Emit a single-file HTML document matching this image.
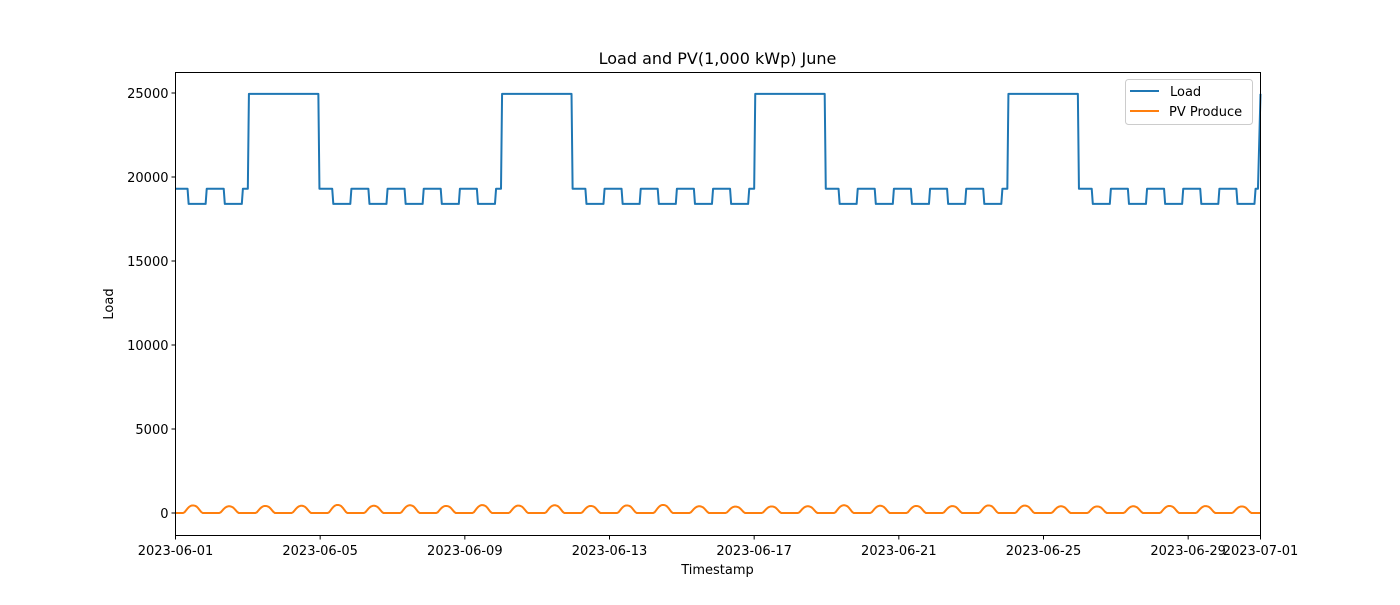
<!DOCTYPE html>
<html><head><meta charset="utf-8"><style>
body{margin:0;background:#fff;font-family:"Liberation Sans","DejaVu Sans",sans-serif}
svg text{font-family:"DejaVu Sans","Liberation Sans",sans-serif;font-size:13px;fill:#000}
</style></head><body>
<svg id="chart" width="1400" height="600" xmlns="http://www.w3.org/2000/svg">
<rect width="1400" height="600" fill="#fff"/>
<text x="717.5" y="64" text-anchor="middle" font-size="16" style="font-size:16px">Load and PV(1,000 kWp) June</text>
<g id="grid"></g>
<g id="series"></g>
<rect x="175.5" y="72.5" width="1085" height="463" fill="none" stroke="#000" stroke-width="1"/>
<g id="ticks"></g>
<text x="717.5" y="574" text-anchor="middle">Timestamp</text>
<text transform="translate(113,304) rotate(-90)" text-anchor="middle">Load</text>
<g>
<rect x="1125.5" y="79.5" width="127" height="45" rx="3" fill="#fff" fill-opacity="0.8" stroke="#ccc"/>
<line x1="1130" y1="91" x2="1159" y2="91" stroke="#1f77b4" stroke-width="2"/>
<text x="1170" y="96">Load</text>
<line x1="1130" y1="111" x2="1159" y2="111" stroke="#ff7f0e" stroke-width="2"/>
<text x="1169" y="116">PV Produce</text>
</g>
</svg>
<script>
// Data
const dayTypes = ["W","W","E","E","W","W","W","W","W","E","E","W","W","W","W","W","E","E","W","W","W","W","W","E","E","W","W","W","W","W"];
const levelNight = 19300, levelDay = 18400, levelWeekend = 24950, levelNextStart = 24950;
const pvPeaks = [450,400,420,430,480,430,460,420,470,440,460,420,450,480,400,380,390,400,460,430,420,410,450,440,400,390,400,420,410,390];
const pvProfile = [0,0,0,0,0,0,0.1,0.35,0.6,0.8,0.93,1,1,0.95,0.85,0.65,0.4,0.15,0,0,0,0,0,0]; // hourly fraction
const yTicks = [0,5000,10000,15000,20000,25000];
const xTickDays = [0,4,8,12,16,20,24,28,30];
const xTickLabels = ["2023-06-01","2023-06-05","2023-06-09","2023-06-13","2023-06-17","2023-06-21","2023-06-25","2023-06-29","2023-07-01"];

const X0=175.5,X1=1260.5,Y0=513,YK=420/25000;
const xs=d=>X0+(X1-X0)*d/30;
const ys=v=>Y0-v*YK;
const NS="http://www.w3.org/2000/svg";
function mk(tag,attrs,parent){const e=document.createElementNS(NS,tag);for(const k in attrs)e.setAttribute(k,attrs[k]);parent.appendChild(e);return e;}
const ticks=document.getElementById('ticks'),series=document.getElementById('series');

yTicks.forEach(v=>{
  const y=ys(v);
  const l=mk('line',{x1:X0-4,x2:X0,y1:y,y2:y,stroke:'#000'},ticks);
  
  
  const t=mk('text',{x:X0-7,y:y+5,'text-anchor':'end'},ticks);t.textContent=v;
  
  
});
xTickDays.forEach((d,i)=>{
  const x=xs(d);
  const l=mk('line',{x1:x,x2:x,y1:535.5,y2:539.5,stroke:'#000'},ticks);
  
  
  const t=mk('text',{x:x,y:555,'text-anchor':'middle'},ticks);t.textContent=xTickLabels[i];
  
  
});

// Load step series
const pts=[];
const R=0.03;
dayTypes.forEach((t,d)=>{
  const prev=d>0?dayTypes[d-1]:"W";
  if(t==="E"){
    if(prev!=="E"){pts.push([d,levelNight]);pts.push([d+R,levelWeekend]);}
    const next=d<29?dayTypes[d+1]:"W";
    if(next!=="E"){pts.push([d+0.95,levelWeekend]);pts.push([d+0.95+R,levelNight]);}
  } else {
    if(d===0)pts.push([0,levelNight]);
    pts.push([d+1/3,levelNight]);pts.push([d+1/3+R,levelDay]);
    pts.push([d+5/6,levelDay]);pts.push([d+5/6+R,levelNight]);
  }
});
pts.push([29.93,levelNight]);pts.push([30,levelNextStart]);
const lp=mk('path',{d:'M'+pts.map(p=>xs(p[0]).toFixed(2)+','+ys(p[1]).toFixed(2)).join('L'),fill:'none',stroke:'#1f77b4','stroke-width':2,'stroke-linejoin':'round'},series);



const pv=[];
pvPeaks.forEach((p,d)=>{pvProfile.forEach((f,h)=>pv.push([d+h/24,p*f]));});
pv.push([30,0]);
const pp=mk('path',{d:'M'+pv.map(p=>xs(p[0]).toFixed(2)+','+ys(p[1]).toFixed(2)).join('L'),fill:'none',stroke:'#ff7f0e','stroke-width':2,'stroke-linejoin':'round'},series);


</script>
</body></html>
